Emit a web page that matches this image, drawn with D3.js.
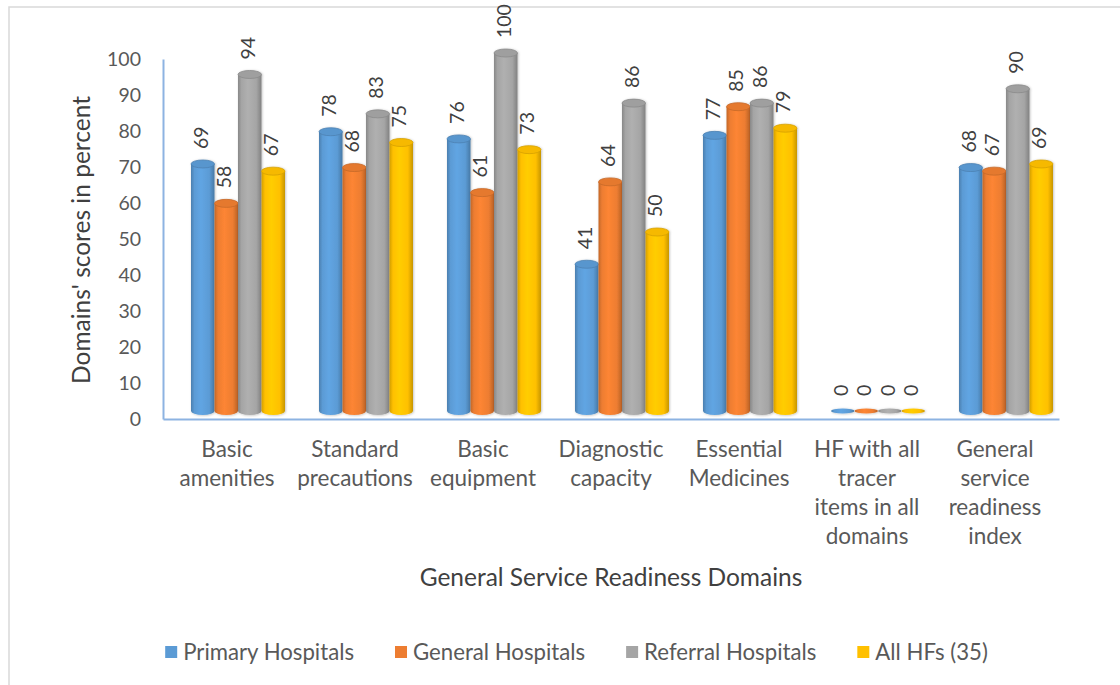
<!DOCTYPE html>
<html>
<head>
<meta charset="utf-8">
<script src="https://cdn.jsdelivr.net/npm/d3@7"></script>
<style>
  body { margin: 0; background: #fff; }
  svg { display: block; }
  text { font-family: Lato, "Open Sans", sans-serif; }
</style>
</head>
<body>
<svg id="chart" width="1120" height="685"></svg>
<script>
// Domain names (line breaks mark how each axis label wraps)
const categories = [
  "Basic\namenities",
  "Standard\nprecautions",
  "Basic\nequipment",
  "Diagnostic\ncapacity",
  "Essential\nMedicines",
  "HF with all\ntracer\nitems in all\ndomains",
  "General\nservice\nreadiness\nindex"
];
const seriesNames = ["Primary Hospitals", "General Hospitals", "Referral Hospitals", "All HFs (35)"];
const primaryHospitals  = [69, 78, 76, 41, 77, 0, 68];
const generalHospitals  = [58, 68, 61, 64, 85, 0, 67];
const referralHospitals = [94, 83, 100, 86, 86, 0, 90];
const allHFs            = [67, 75, 73, 50, 79, 0, 69];
const yTicks = [0, 10, 20, 30, 40, 50, 60, 70, 80, 90, 100];
const colors = ["#5B9BD5", "#ED7D31", "#A5A5A5", "#FFC000"];

const seriesValues = [primaryHospitals, generalHospitals, referralHospitals, allHFs];

const svg = d3.select("#chart");

// outer chart frame (top and left edges visible)
svg.append("path")
  .attr("d", "M9,685 L9,7 L1120,7")
  .attr("fill", "none")
  .attr("stroke", "#d9d9d9")
  .attr("stroke-width", 1.5);

const plotLeft = 163, plotRight = 1059;

const x0 = d3.scaleBand().domain(d3.range(categories.length)).range([plotLeft, plotRight]).padding(0);
const x1 = d3.scaleBand().domain(d3.range(seriesNames.length)).range([28, 122]).padding(0);
const yAxisScale = d3.scaleLinear().domain([0, 100]).range([419, 59]);
// columns sit on a receding floor, so their tops follow a slightly shifted scale
const yBar = d3.scaleLinear().domain([0, 100]).range([411, 53]);

// gradients for cylinder shading
const defs = svg.append("defs");
colors.forEach((c, i) => {
  const base = d3.color(c);
  const g = defs.append("linearGradient").attr("id", "cyl" + i)
    .attr("x1", "0%").attr("x2", "100%").attr("y1", "0%").attr("y2", "0%");
  g.append("stop").attr("offset", "0%").attr("stop-color", base.darker(0.55));
  g.append("stop").attr("offset", "15%").attr("stop-color", base);
  g.append("stop").attr("offset", "42%").attr("stop-color", base.brighter(0.18));
  g.append("stop").attr("offset", "78%").attr("stop-color", base);
  g.append("stop").attr("offset", "100%").attr("stop-color", base.darker(0.7));
});
const f = defs.append("filter").attr("id", "soft").attr("x", "-20%").attr("y", "-5%").attr("width", "140%").attr("height", "110%");
f.append("feDropShadow").attr("dx", 0.8).attr("dy", 0.5).attr("stdDeviation", 0.9)
  .attr("flood-color", "#000").attr("flood-opacity", 0.25);

// Y axis
const yAxis = svg.append("g")
  .attr("transform", `translate(${plotLeft},0)`)
  .call(d3.axisLeft(yAxisScale).tickValues(yTicks).tickSize(0).tickSizeOuter(0).tickPadding(22));
yAxis.select(".domain").attr("stroke", "#8db3e2").attr("stroke-width", 2);
yAxis.selectAll(".tick text")
  .attr("fill", "#595959")
  .style("font-size", "19.5px")
  .style("font-family", "Lato, 'Open Sans', sans-serif");

// X axis
const xAxis = svg.append("g")
  .attr("transform", `translate(0,${yAxisScale(0)})`)
  .call(d3.axisBottom(x0).tickSize(0).tickSizeOuter(0).tickFormat(""));
xAxis.select(".domain").attr("stroke", "#8db3e2").attr("stroke-width", 2);
xAxis.selectAll(".tick text").remove();
xAxis.selectAll(".tick").each(function (d) {
  const t = d3.select(this).append("text")
    .attr("text-anchor", "middle")
    .attr("fill", "#595959")
    .style("font-size", "22.5px")
    .style("font-family", "Lato, 'Open Sans', sans-serif");
  categories[d].split("\n").forEach((line, k) => {
    t.append("tspan").attr("x", 0).attr("y", 38 + k * 29).text(line);
  });
});

// Bars
const ry = 4;
seriesValues.forEach((vals, s) => {
  const g = svg.append("g").attr("class", "series").attr("filter", "url(#soft)");
  vals.forEach((v, i) => {
    const bw = x1.bandwidth();
    const rx = bw / 2;
    const cx = x0(i) + x1(s) + rx;
    const top = yBar(v);
    const bottom = yBar(0);
    if (v > 0) {
      g.append("path")
        .attr("d", `M${cx - rx},${bottom} L${cx - rx},${top} L${cx + rx},${top} L${cx + rx},${bottom} A${rx},${ry} 0 0 1 ${cx - rx},${bottom} Z`)
        .attr("fill", `url(#cyl${s})`);
      g.append("ellipse")
        .attr("cx", cx).attr("cy", top).attr("rx", rx).attr("ry", ry)
        .attr("fill", d3.color(colors[s]).darker(0.1))
        .attr("stroke", d3.color(colors[s]).darker(0.5))
        .attr("stroke-width", 0.8);
    } else {
      g.append("ellipse")
        .attr("cx", cx).attr("cy", top).attr("rx", rx).attr("ry", 2.6)
        .attr("fill", `url(#cyl${s})`);
    }
  });
});

// Data labels (rotated, above each column)
seriesValues.forEach((vals, s) => {
  vals.forEach((v, i) => {
    const bw = x1.bandwidth();
    const cx = x0(i) + x1(s) + bw / 2;
    const ty = yBar(v) - ry - 11;
    svg.append("text")
      .attr("transform", `translate(${cx - 2},${ty}) rotate(-90)`)
      .attr("text-anchor", "start")
      .attr("dy", "0.35em")
      .attr("fill", "#404040")
      .style("font-size", "19.5px")
      .text(v);
  });
});

// Axis titles
svg.append("text")
  .attr("x", 611).attr("y", 586)
  .attr("text-anchor", "middle")
  .attr("fill", "#404040")
  .style("font-size", "24.5px")
  .text("General Service Readiness Domains");

svg.append("text")
  .attr("transform", `translate(90,240) rotate(-90)`)
  .attr("text-anchor", "middle")
  .attr("fill", "#404040")
  .style("font-size", "24.5px")
  .text("Domains' scores in percent");

// Legend
const legend = svg.append("g");
const gap = 41, sq = 12, sqGap = 6;
let lx = 0;
seriesNames.forEach((name, s) => {
  const item = legend.append("g").attr("transform", `translate(${lx},0)`);
  item.append("rect").attr("x", 0).attr("y", -sq / 2).attr("width", sq).attr("height", sq).attr("fill", colors[s]);
  const t = item.append("text")
    .attr("x", sq + sqGap).attr("y", 0).attr("dy", "0.35em")
    .attr("fill", "#595959")
    .style("font-size", "22.2px")
    .text(name);
  lx += sq + sqGap + t.node().getComputedTextLength() + gap;
});
const legendWidth = lx - gap;
legend.attr("transform", `translate(${576.5 - legendWidth / 2},652)`);
</script>
</body>
</html>
